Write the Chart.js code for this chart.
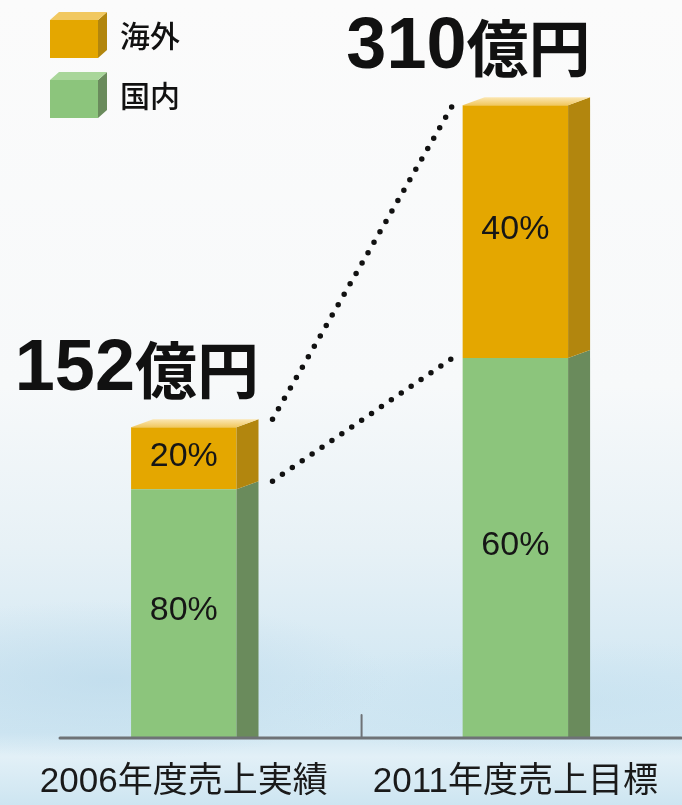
<!DOCTYPE html>
<html>
<head>
<meta charset="utf-8">
<script src="https://cdn.jsdelivr.net/npm/chart.js@4.4.1/dist/chart.umd.min.js"></script>
<style>
  html, body { margin: 0; padding: 0; width: 682px; height: 805px; overflow: hidden; }
  body {
    background:
      radial-gradient(ellipse 280px 80px at 110px 680px, rgba(185,216,234,0.6), rgba(185,216,234,0) 100%),
      radial-gradient(ellipse 300px 60px at 570px 700px, rgba(196,224,239,0.55), rgba(196,224,239,0) 100%),
      linear-gradient(to bottom, #fbfbfb 0%, #f7f9fa 48%, #e7f1f6 68%, #d3e8f3 84%, #cfe6f2 91%, #e2f0f7 94%, #cde5f1 100%);
  }
  canvas { display: block; }
</style>
</head>
<body>
<canvas id="chart" width="682" height="805"></canvas>
<script>
const categories = ['2006年度売上実績', '2011年度売上目標'];
const totals = [152, 310];
const domesticShare = [80, 60];
const overseasShare = [20, 40];
const domestic = [121.6, 186];
const overseas = [30.4, 124];
const seriesNames = ['国内', '海外'];

const fontLatin = "'Liberation Sans', 'Noto Sans CJK JP', sans-serif";
const fontCJK = "'Noto Sans CJK JP', sans-serif";

const colors = {
  green: { front: '#8cc57c', side: '#6a8b5c', top: '#a9d69a' },
  orange: { front: '#e4a700', side: '#b2860e', top: '#f1c860' }
};

const DX = 22, DY = -8;

// 3D sides, tops, dotted lines, labels, legend
const bar3d = {
  id: 'bar3d',
  afterDatasetsDraw(chart) {
    const ctx = chart.ctx;
    const low = chart.getDatasetMeta(0).data;
    const high = chart.getDatasetMeta(1).data;
    const pal = [colors.green, colors.orange];

    ctx.save();
    [low, high].forEach((bars, di) => {
      bars.forEach(b => {
        const x1 = b.x - b.width / 2, x2 = b.x + b.width / 2;
        ctx.fillStyle = pal[di].side;
        ctx.beginPath();
        ctx.moveTo(x2, b.y);
        ctx.lineTo(x2 + DX, b.y + DY);
        ctx.lineTo(x2 + DX, di === 0 ? b.base : b.base + DY);
        ctx.lineTo(x2, b.base);
        ctx.closePath();
        ctx.fill();
        if (di === 1) {
          const g = ctx.createLinearGradient(0, b.y + DY, 0, b.y);
          g.addColorStop(0, '#fbe7b4');
          g.addColorStop(1, pal[di].top);
          ctx.fillStyle = g;
          ctx.beginPath();
          ctx.moveTo(x1, b.y);
          ctx.lineTo(x1 + DX, b.y + DY);
          ctx.lineTo(x2 + DX, b.y + DY);
          ctx.lineTo(x2, b.y);
          ctx.closePath();
          ctx.fill();
        }
      });
    });

    // dotted connectors
    ctx.strokeStyle = '#111';
    ctx.lineWidth = 5.5;
    ctx.lineCap = 'round';
    ctx.setLineDash([0, 12]);
    [[high[0], high[1]], [low[0], low[1]]].forEach(([a, b]) => {
      ctx.beginPath();
      ctx.moveTo(a.x + a.width / 2 + DX + 14, a.y + DY);
      ctx.lineTo(b.x - b.width / 2 - 10, b.y);
      ctx.stroke();
    });
    ctx.setLineDash([]);

    // percentage labels
    ctx.fillStyle = '#161616';
    ctx.font = '34px ' + fontLatin;
    ctx.textAlign = 'center';
    ctx.textBaseline = 'middle';
    low.forEach((b, i) => ctx.fillText(domesticShare[i] + '%', b.x, (b.y + b.base) / 2 - 2));
    high.forEach((b, i) => ctx.fillText(overseasShare[i] + '%', b.x, (b.y + b.base) / 2 - 2));

    // totals
    ctx.fillStyle = '#111';
    ctx.textAlign = 'left';
    ctx.textBaseline = 'alphabetic';
    high.forEach((b, i) => {
      const x = b.x - 169, y = b.y - 37;
      ctx.font = 'bold 72px ' + fontLatin;
      const num = String(totals[i]);
      ctx.fillText(num, x, y);
      const w = ctx.measureText(num).width;
      ctx.font = 'bold 62px ' + fontCJK;
      ctx.fillText('億円', x + w, y + 4);
    });

    // axis line and middle tick
    const area = chart.chartArea;
    ctx.strokeStyle = '#6e7276';
    ctx.lineWidth = 3;
    ctx.beginPath();
    ctx.moveTo(60, area.bottom + 1);
    ctx.lineTo(area.right, area.bottom + 1);
    ctx.stroke();
    const mid = chart.scales.x.getPixelForValue(0.5) + 12;
    ctx.lineWidth = 2;
    ctx.beginPath();
    ctx.moveTo(mid, area.bottom - 22);
    ctx.lineTo(mid, area.bottom);
    ctx.stroke();

    // legend with small 3D boxes
    const items = [
      { name: seriesNames[1], c: colors.orange, y: 20 },
      { name: seriesNames[0], c: colors.green, y: 80 }
    ];
    items.forEach(it => {
      const x = 50, w = 48, h = 38, dx = 9, dy = -8;
      ctx.fillStyle = it.c.front;
      ctx.fillRect(x, it.y, w, h);
      ctx.fillStyle = it.c.side;
      ctx.beginPath();
      ctx.moveTo(x + w, it.y);
      ctx.lineTo(x + w + dx, it.y + dy);
      ctx.lineTo(x + w + dx, it.y + h + dy);
      ctx.lineTo(x + w, it.y + h);
      ctx.closePath();
      ctx.fill();
      ctx.fillStyle = it.c.top;
      ctx.beginPath();
      ctx.moveTo(x, it.y);
      ctx.lineTo(x + dx, it.y + dy);
      ctx.lineTo(x + w + dx, it.y + dy);
      ctx.lineTo(x + w, it.y);
      ctx.closePath();
      ctx.fill();
      ctx.fillStyle = '#111';
      ctx.font = '500 30px ' + fontCJK;
      ctx.textBaseline = 'middle';
      ctx.fillText(it.name, 120, it.y + h / 2 - 3);
    });
    ctx.restore();
  }
};

new Chart(document.getElementById('chart'), {
  type: 'bar',
  data: {
    labels: categories,
    datasets: [
      { label: seriesNames[0], data: domestic, backgroundColor: colors.green.front },
      { label: seriesNames[1], data: overseas, backgroundColor: colors.orange.front }
    ]
  },
  options: {
    responsive: false,
    animation: false,
    devicePixelRatio: 1,
    layout: { padding: { top: 44, left: 18, right: 0, bottom: 0 } },
    datasets: { bar: { barPercentage: 0.318, categoryPercentage: 1 } },
    plugins: { legend: { display: false }, tooltip: { enabled: false } },
    scales: {
      x: {
        stacked: true,
        grid: { display: false, drawTicks: false },
        border: { display: false },
        ticks: {
          color: '#1a1a1a',
          font: { size: 35, family: fontLatin },
          padding: 24,
          maxRotation: 0,
          autoSkip: false
        },
        afterFit(s) { s.height = 68; }
      },
      y: { stacked: true, display: false, min: 0, max: 340 }
    }
  },
  plugins: [bar3d]
});
</script>
</body>
</html>
